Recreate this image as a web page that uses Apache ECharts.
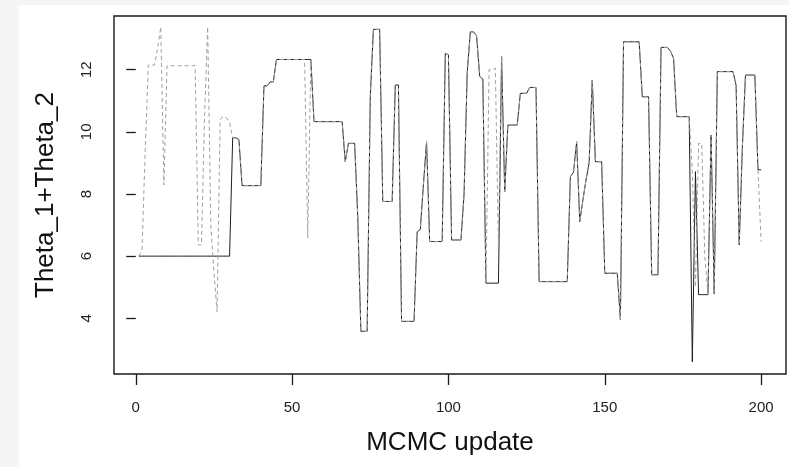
<!DOCTYPE html>
<html>
<head>
<meta charset="utf-8">
<script src="https://cdn.jsdelivr.net/npm/echarts@6/dist/echarts.min.js"></script>
<style>
  html, body { margin: 0; padding: 0; background: #f5f5f5; width: 789px; height: 467px; overflow: hidden; }
  #chart { position: absolute; left: 19px; top: 5px; width: 770px; height: 462px; background: #ffffff; }
</style>
</head>
<body>
<div id="chart"></div>
<script>
// MCMC trace values (iterations 1..200)
const chainA = [
  6,6,6,6,6,6,6,6,6,6,
  6,6,6,6,6,6,6,6,6,6,
  6,6,6,6,6,6,6,6,6,6,
  9.81,9.81,9.75,8.27,8.27,8.27,8.27,8.27,8.27,8.27,
  11.48,11.48,11.61,11.61,12.33,12.33,12.33,12.33,12.33,12.33,
  12.33,12.33,12.33,12.33,12.33,12.33,10.33,10.33,10.33,10.33,
  10.33,10.33,10.33,10.33,10.33,10.33,9.04,9.63,9.63,9.63,
  7.27,3.58,3.58,3.58,11.13,13.3,13.3,13.3,7.76,7.76,
  7.76,7.76,11.51,11.51,3.9,3.9,3.9,3.9,3.9,6.79,
  6.85,8.3,9.68,6.47,6.47,6.47,6.47,6.47,12.53,12.48,
  6.52,6.52,6.52,6.52,8.0,11.9,13.22,13.22,13.1,11.78,
  11.7,5.13,5.13,5.13,5.13,5.13,12.42,8.08,10.22,10.22,
  10.22,10.22,11.24,11.24,11.24,11.43,11.43,11.43,5.18,5.18,
  5.18,5.18,5.18,5.18,5.18,5.18,5.18,5.18,8.56,8.7,
  9.68,7.11,7.8,8.45,9.0,11.67,9.04,9.04,9.04,5.45,
  5.45,5.45,5.45,5.45,3.95,12.9,12.9,12.9,12.9,12.9,
  12.9,11.13,11.13,11.13,5.4,5.4,5.4,12.72,12.72,12.72,
  12.6,12.37,10.49,10.49,10.49,10.49,10.49,2.6,8.72,4.76,
  4.76,4.76,4.76,9.9,4.78,11.94,11.94,11.94,11.94,11.94,
  11.94,11.5,6.36,9.5,11.83,11.83,11.83,11.83,8.78,8.78
];
const chainB = [
  6.0,6.2,9.3,12.15,12.15,12.15,12.7,13.38,8.29,12.13,
  12.13,12.13,12.13,12.13,12.13,12.13,12.13,12.13,12.13,6.36,
  6.36,10.5,13.38,7.0,5.5,4.2,10.4,10.5,10.45,10.3,
  9.81,9.81,9.75,8.27,8.27,8.27,8.27,8.27,8.27,8.27,
  11.48,11.48,11.61,11.61,12.33,12.33,12.33,12.33,12.33,12.33,
  12.33,12.33,12.33,12.33,6.58,12.33,10.33,10.33,10.33,10.33,
  10.33,10.33,10.33,10.33,10.33,10.33,9.04,9.63,9.63,9.63,
  7.27,3.58,3.58,3.58,11.13,13.3,13.3,13.3,7.76,7.76,
  7.76,7.76,11.51,11.51,3.9,3.9,3.9,3.9,3.9,6.79,
  6.85,8.3,9.68,6.47,6.47,6.47,6.47,6.47,12.53,12.48,
  6.52,6.52,6.52,6.52,8.0,11.9,13.22,13.22,13.1,11.78,
  11.7,5.13,12.0,12.0,12.05,6.3,12.42,8.08,10.22,10.22,
  10.22,10.22,11.24,11.24,11.24,11.43,11.43,11.43,5.18,5.18,
  5.18,5.18,5.18,5.18,5.18,5.18,5.18,5.18,8.56,8.7,
  9.68,7.11,7.8,8.45,9.0,11.67,9.04,9.04,9.04,5.45,
  5.45,5.45,5.45,5.45,3.95,12.9,12.9,12.9,12.9,12.9,
  12.9,11.13,11.13,11.13,5.4,5.4,5.4,12.72,12.72,12.72,
  12.6,12.37,10.49,10.49,10.49,10.49,10.49,8.72,5.0,9.63,
  9.63,6.0,4.76,9.9,4.78,11.94,11.94,11.94,11.94,11.94,
  11.94,11.5,6.36,9.5,11.83,11.83,11.83,11.83,8.78,6.47
];
const xTicks = [0, 50, 100, 150, 200];
const yTicks = [4, 6, 8, 10, 12];
const xTitle = 'MCMC update';
const yTitle = 'Theta_1+Theta_2';

const toPairs = arr => arr.map((v, i) => [i + 1, v]);

const font = '"Liberation Sans", Arial, Helvetica, sans-serif';
const chart = echarts.init(document.getElementById('chart'), null, { renderer: 'canvas' });
chart.setOption({
  animation: false,
  backgroundColor: '#ffffff',
  grid: {
    left: 95, right: 3, top: 11, bottom: 93,
    show: true, borderColor: '#1a1a1a', borderWidth: 1.4, backgroundColor: '#ffffff'
  },
  xAxis: {
    type: 'value', min: -6.96, max: 207.96,
    axisLine: { show: false },
    splitLine: { show: false },
    axisTick: { show: true, length: 11, customValues: xTicks, lineStyle: { color: '#1a1a1a', width: 1.3 } },
    axisLabel: { customValues: xTicks, fontSize: 15, margin: 26, color: '#222', fontFamily: font },
    name: xTitle, nameLocation: 'middle', nameGap: 56,
    nameTextStyle: { fontSize: 26, color: '#111', fontFamily: font }
  },
  yAxis: {
    type: 'value', min: 2.206, max: 13.73,
    axisLine: { show: false },
    splitLine: { show: false },
    axisTick: { show: true, length: 9.5, customValues: yTicks, lineStyle: { color: '#1a1a1a', width: 1.3 } },
    axisLabel: { customValues: yTicks, fontSize: 15, margin: 20, rotate: 90, color: '#222', fontFamily: font },
    name: yTitle, nameLocation: 'middle', nameGap: 55, nameRotate: 90,
    nameTextStyle: { fontSize: 26, color: '#111', fontFamily: font }
  },
  series: [
    {
      type: 'line', data: toPairs(chainA), showSymbol: false, z: 2,
      lineStyle: { color: '#1e1e1e', width: 1 }
    },
    {
      type: 'line', data: toPairs(chainB), showSymbol: false, z: 3,
      lineStyle: { color: '#a0a0a0', width: 1, type: [4, 3] }
    }
  ]
});
</script>
</body>
</html>
